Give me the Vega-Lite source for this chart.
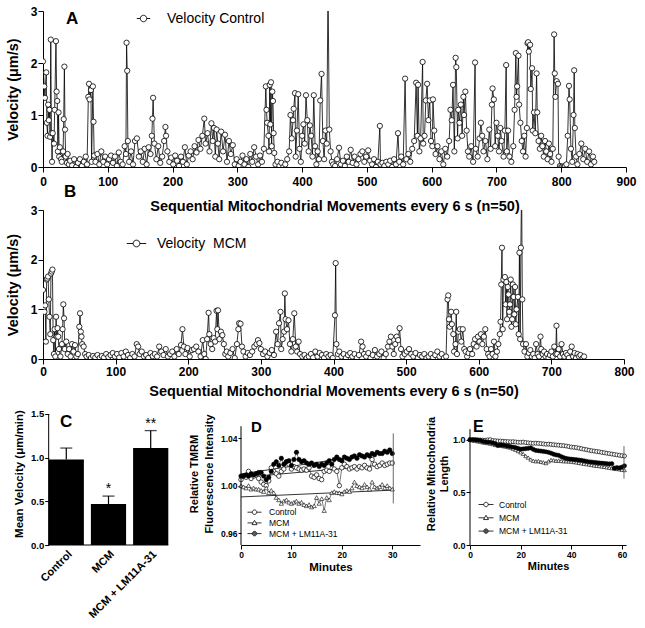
{
"$schema":"https://vega.github.io/schema/vega-lite/v6.json",
"background":"white",
"padding":{"left":5,"top":5,"right":0,"bottom":0},
"bounds":"flush",
"spacing":43,
"resolve":{"scale":{"shape":"independent"},"legend":{"shape":"independent"}},
"config":{
 "font":"Liberation Sans",
 "view":{"stroke":null},
 "axis":{"grid":false,"labelFlush":false,"domainColor":"black","tickColor":"black","labelColor":"black","titleColor":"black","labelFontWeight":"bold","titleFontWeight":"bold","labelFont":"Liberation Sans","titleFont":"Liberation Sans","domainWidth":1,"tickWidth":1},
 "legend":{"labelFont":"Liberation Sans","labelColor":"black"},
 "title":{"font":"Liberation Sans","color":"black"}
},
"datasets":{
 "ctrl":[{"x":0,"v":2.03},{"x":2,"v":1.55},{"x":3,"v":1.33},{"x":5,"v":1.82},{"x":6,"v":0.85},{"x":7,"v":0.6},{"x":8,"v":1.2},{"x":9,"v":0.9},{"x":10,"v":1.1},{"x":11,"v":0.58},{"x":12,"v":2.45},{"x":13,"v":0.65},{"x":14,"v":0.1},{"x":15,"v":0.65},{"x":17,"v":0.45},{"x":18,"v":1.1},{"x":20,"v":2.42},{"x":21,"v":1.45},{"x":22,"v":1.27},{"x":23,"v":0.3},{"x":24,"v":1.05},{"x":25,"v":0.2},{"x":26,"v":0.38},{"x":28,"v":0.15},{"x":29,"v":0.1},{"x":31,"v":0.3},{"x":32,"v":0.92},{"x":33,"v":1.93},{"x":34,"v":0.72},{"x":35,"v":0.2},{"x":37,"v":0.08},{"x":38,"v":0.25},{"x":40,"v":0.05},{"x":42,"v":0.12},{"x":45,"v":0.03},{"x":48,"v":0.15},{"x":51,"v":0.0},{"x":54,"v":0.08},{"x":57,"v":0.15},{"x":60,"v":0.02},{"x":63,"v":0.1},{"x":66,"v":0.2},{"x":68,"v":0.05},{"x":70,"v":1.35},{"x":71,"v":1.6},{"x":72,"v":1.3},{"x":74,"v":1.48},{"x":75,"v":0.1},{"x":77,"v":1.55},{"x":78,"v":0.87},{"x":79,"v":0.22},{"x":81,"v":0.1},{"x":84,"v":0.25},{"x":87,"v":0.05},{"x":90,"v":0.3},{"x":93,"v":0.1},{"x":96,"v":0.2},{"x":99,"v":0.05},{"x":102,"v":0.15},{"x":105,"v":0.22},{"x":108,"v":0.08},{"x":111,"v":0.2},{"x":114,"v":0.02},{"x":117,"v":0.28},{"x":120,"v":0.1},{"x":123,"v":0.05},{"x":126,"v":0.4},{"x":128,"v":0.25},{"x":129,"v":2.39},{"x":130,"v":1.85},{"x":131,"v":0.5},{"x":133,"v":0.1},{"x":136,"v":0.3},{"x":139,"v":0.05},{"x":142,"v":0.5},{"x":145,"v":0.55},{"x":148,"v":0.2},{"x":151,"v":0.3},{"x":154,"v":0.1},{"x":157,"v":0.35},{"x":160,"v":0.05},{"x":163,"v":0.38},{"x":166,"v":0.25},{"x":168,"v":0.6},{"x":169,"v":0.93},{"x":170,"v":1.33},{"x":172,"v":0.45},{"x":175,"v":0.15},{"x":178,"v":0.4},{"x":181,"v":0.08},{"x":184,"v":0.2},{"x":187,"v":0.5},{"x":189,"v":0.77},{"x":190,"v":0.6},{"x":192,"v":0.3},{"x":195,"v":0.1},{"x":198,"v":0.18},{"x":201,"v":0.05},{"x":204,"v":0.22},{"x":207,"v":0.12},{"x":210,"v":0.02},{"x":213,"v":0.2},{"x":216,"v":0.1},{"x":219,"v":0.38},{"x":222,"v":0.05},{"x":225,"v":0.22},{"x":228,"v":0.3},{"x":231,"v":0.15},{"x":234,"v":0.4},{"x":237,"v":0.28},{"x":240,"v":0.52},{"x":243,"v":0.35},{"x":246,"v":0.6},{"x":249,"v":0.93},{"x":251,"v":0.45},{"x":254,"v":0.65},{"x":257,"v":0.3},{"x":260,"v":0.84},{"x":262,"v":0.5},{"x":264,"v":0.75},{"x":266,"v":0.2},{"x":268,"v":0.72},{"x":270,"v":0.45},{"x":272,"v":0.15},{"x":275,"v":0.68},{"x":278,"v":0.3},{"x":281,"v":0.62},{"x":284,"v":0.1},{"x":287,"v":0.5},{"x":290,"v":0.25},{"x":293,"v":0.42},{"x":296,"v":0.05},{"x":299,"v":0.15},{"x":302,"v":0.02},{"x":305,"v":0.1},{"x":308,"v":0.22},{"x":311,"v":0.05},{"x":314,"v":0.15},{"x":317,"v":0.0},{"x":320,"v":0.25},{"x":323,"v":0.1},{"x":326,"v":0.38},{"x":329,"v":0.2},{"x":332,"v":0.05},{"x":335,"v":0.22},{"x":338,"v":0.1},{"x":341,"v":0.35},{"x":344,"v":1.55},{"x":345,"v":1.1},{"x":346,"v":0.85},{"x":348,"v":0.6},{"x":349,"v":0.3},{"x":350,"v":1.58},{"x":351,"v":0.82},{"x":352,"v":1.63},{"x":353,"v":0.4},{"x":354,"v":1.45},{"x":355,"v":1.27},{"x":356,"v":0.65},{"x":357,"v":0.27},{"x":359,"v":0.05},{"x":362,"v":0.1},{"x":365,"v":0.02},{"x":368,"v":0.08},{"x":371,"v":0.0},{"x":374,"v":0.05},{"x":377,"v":0.15},{"x":380,"v":0.3},{"x":382,"v":1.0},{"x":384,"v":0.55},{"x":386,"v":0.9},{"x":387,"v":1.12},{"x":389,"v":1.42},{"x":390,"v":0.2},{"x":392,"v":0.7},{"x":394,"v":1.4},{"x":396,"v":0.35},{"x":398,"v":0.1},{"x":400,"v":0.6},{"x":402,"v":0.82},{"x":404,"v":0.45},{"x":406,"v":1.38},{"x":408,"v":0.9},{"x":410,"v":0.3},{"x":412,"v":0.8},{"x":414,"v":0.6},{"x":416,"v":0.2},{"x":418,"v":1.38},{"x":420,"v":0.4},{"x":422,"v":0.05},{"x":424,"v":0.3},{"x":426,"v":0.15},{"x":428,"v":1.28},{"x":430,"v":1.79},{"x":432,"v":0.5},{"x":434,"v":0.15},{"x":436,"v":0.7},{"x":438,"v":0.45},{"x":440,"v":3.5},{"x":442,"v":0.72},{"x":444,"v":0.3},{"x":446,"v":0.1},{"x":448,"v":0.05},{"x":451,"v":0.02},{"x":454,"v":0.15},{"x":457,"v":0.37},{"x":460,"v":0.05},{"x":463,"v":0.12},{"x":466,"v":0.02},{"x":469,"v":0.2},{"x":472,"v":0.1},{"x":475,"v":0.33},{"x":478,"v":0.08},{"x":481,"v":0.2},{"x":484,"v":0.05},{"x":487,"v":0.15},{"x":490,"v":0.25},{"x":493,"v":0.3},{"x":496,"v":0.1},{"x":499,"v":0.2},{"x":502,"v":0.32},{"x":505,"v":0.12},{"x":508,"v":0.05},{"x":511,"v":0.15},{"x":514,"v":0.0},{"x":517,"v":0.1},{"x":520,"v":0.79},{"x":521,"v":0.05},{"x":524,"v":0.08},{"x":527,"v":0.02},{"x":530,"v":0.1},{"x":533,"v":0.05},{"x":536,"v":0.12},{"x":539,"v":0.0},{"x":542,"v":0.15},{"x":545,"v":0.05},{"x":548,"v":0.65},{"x":550,"v":0.1},{"x":553,"v":0.2},{"x":556,"v":0.05},{"x":559,"v":1.7},{"x":561,"v":0.15},{"x":564,"v":0.25},{"x":567,"v":0.1},{"x":570,"v":0.35},{"x":573,"v":0.5},{"x":576,"v":1.62},{"x":578,"v":0.6},{"x":579,"v":1.58},{"x":581,"v":0.3},{"x":583,"v":0.55},{"x":586,"v":2.02},{"x":587,"v":0.45},{"x":589,"v":0.6},{"x":591,"v":1.28},{"x":593,"v":1.6},{"x":595,"v":0.9},{"x":597,"v":1.28},{"x":599,"v":0.5},{"x":601,"v":0.4},{"x":602,"v":1.3},{"x":604,"v":0.7},{"x":606,"v":0.25},{"x":609,"v":0.4},{"x":612,"v":0.15},{"x":615,"v":0.3},{"x":618,"v":0.05},{"x":621,"v":0.35},{"x":624,"v":0.2},{"x":627,"v":0.5},{"x":629,"v":1.1},{"x":631,"v":0.9},{"x":633,"v":1.58},{"x":635,"v":0.3},{"x":637,"v":2.1},{"x":638,"v":1.92},{"x":640,"v":0.55},{"x":641,"v":1.1},{"x":643,"v":0.85},{"x":645,"v":1.2},{"x":647,"v":0.6},{"x":649,"v":1.35},{"x":650,"v":1.0},{"x":652,"v":1.45},{"x":654,"v":0.7},{"x":656,"v":0.3},{"x":658,"v":0.2},{"x":661,"v":0.4},{"x":664,"v":0.1},{"x":667,"v":2.01},{"x":668,"v":0.35},{"x":671,"v":0.2},{"x":674,"v":0.55},{"x":676,"v":0.85},{"x":678,"v":0.6},{"x":680,"v":0.3},{"x":683,"v":0.5},{"x":686,"v":0.15},{"x":689,"v":0.72},{"x":691,"v":0.35},{"x":693,"v":1.2},{"x":694,"v":1.51},{"x":696,"v":1.3},{"x":698,"v":0.4},{"x":700,"v":0.85},{"x":702,"v":0.6},{"x":704,"v":0.3},{"x":706,"v":0.75},{"x":708,"v":0.5},{"x":711,"v":0.2},{"x":713,"v":0.7},{"x":715,"v":1.96},{"x":716,"v":0.3},{"x":718,"v":0.7},{"x":720,"v":0.2},{"x":723,"v":0.1},{"x":726,"v":0.4},{"x":728,"v":1.1},{"x":730,"v":2.19},{"x":731,"v":1.35},{"x":732,"v":1.55},{"x":734,"v":2.14},{"x":735,"v":1.2},{"x":737,"v":0.85},{"x":739,"v":0.5},{"x":741,"v":0.3},{"x":743,"v":0.6},{"x":745,"v":0.2},{"x":747,"v":0.75},{"x":748,"v":2.38},{"x":749,"v":2.4},{"x":750,"v":2.22},{"x":752,"v":2.35},{"x":753,"v":1.5},{"x":755,"v":1.9},{"x":756,"v":0.7},{"x":758,"v":1.05},{"x":760,"v":0.65},{"x":762,"v":1.8},{"x":763,"v":1.05},{"x":765,"v":0.5},{"x":767,"v":0.35},{"x":769,"v":0.6},{"x":771,"v":0.4},{"x":773,"v":0.2},{"x":775,"v":0.5},{"x":777,"v":0.3},{"x":779,"v":0.15},{"x":781,"v":0.45},{"x":783,"v":0.25},{"x":785,"v":0.1},{"x":787,"v":0.35},{"x":789,"v":2.55},{"x":790,"v":1.8},{"x":791,"v":1.35},{"x":793,"v":1.65},{"x":795,"v":1.6},{"x":796,"v":0.2},{"x":798,"v":0.02},{"x":800,"v":0.0},{"x":802,"v":0.01},{"x":804,"v":0.0},{"x":806,"v":0.02},{"x":808,"v":0.05},{"x":810,"v":0.6},{"x":812,"v":1.56},{"x":813,"v":1.3},{"x":815,"v":0.35},{"x":817,"v":0.1},{"x":819,"v":1.0},{"x":820,"v":1.86},{"x":821,"v":0.75},{"x":823,"v":0.2},{"x":825,"v":0.05},{"x":828,"v":0.25},{"x":831,"v":0.45},{"x":834,"v":0.15},{"x":837,"v":0.35},{"x":840,"v":0.1},{"x":843,"v":0.3},{"x":846,"v":0.05},{"x":849,"v":0.2},{"x":851,"v":0.1}],
 "mcm":[{"x":0,"v":1.39},{"x":1,"v":1.0},{"x":2,"v":0.95},{"x":3,"v":1.08},{"x":4,"v":0.35},{"x":5,"v":1.6},{"x":6,"v":1.62},{"x":7,"v":1.66},{"x":8,"v":1.2},{"x":9,"v":0.85},{"x":10,"v":0.5},{"x":11,"v":1.72},{"x":12,"v":1.76},{"x":13,"v":1.8},{"x":14,"v":0.38},{"x":15,"v":0.1},{"x":16,"v":0.6},{"x":17,"v":0.05},{"x":18,"v":0.85},{"x":19,"v":0.45},{"x":20,"v":0.62},{"x":21,"v":0.45},{"x":22,"v":0.2},{"x":24,"v":0.05},{"x":26,"v":0.3},{"x":27,"v":0.6},{"x":28,"v":1.1},{"x":29,"v":0.82},{"x":30,"v":0.2},{"x":32,"v":0.35},{"x":34,"v":0.1},{"x":36,"v":0.2},{"x":38,"v":0.05},{"x":40,"v":0.3},{"x":42,"v":0.15},{"x":44,"v":0.28},{"x":46,"v":0.05},{"x":48,"v":0.1},{"x":50,"v":0.65},{"x":51,"v":0.92},{"x":52,"v":0.55},{"x":53,"v":0.45},{"x":54,"v":0.3},{"x":56,"v":0.25},{"x":58,"v":0.1},{"x":60,"v":0.05},{"x":63,"v":0.08},{"x":66,"v":0.02},{"x":69,"v":0.06},{"x":72,"v":0.03},{"x":75,"v":0.08},{"x":78,"v":0.02},{"x":81,"v":0.06},{"x":84,"v":0.03},{"x":87,"v":0.1},{"x":90,"v":0.04},{"x":93,"v":0.08},{"x":96,"v":0.12},{"x":99,"v":0.05},{"x":102,"v":0.1},{"x":105,"v":0.03},{"x":108,"v":0.12},{"x":111,"v":0.05},{"x":114,"v":0.15},{"x":117,"v":0.08},{"x":120,"v":0.02},{"x":123,"v":0.1},{"x":126,"v":0.05},{"x":129,"v":0.3},{"x":131,"v":0.25},{"x":133,"v":0.1},{"x":136,"v":0.15},{"x":139,"v":0.05},{"x":142,"v":0.08},{"x":145,"v":0.02},{"x":148,"v":0.12},{"x":151,"v":0.06},{"x":154,"v":0.1},{"x":157,"v":0.05},{"x":160,"v":0.25},{"x":163,"v":0.15},{"x":166,"v":0.08},{"x":169,"v":0.2},{"x":172,"v":0.05},{"x":175,"v":0.1},{"x":178,"v":0.15},{"x":181,"v":0.05},{"x":184,"v":0.2},{"x":187,"v":0.1},{"x":190,"v":0.28},{"x":192,"v":0.6},{"x":194,"v":0.25},{"x":196,"v":0.1},{"x":199,"v":0.22},{"x":202,"v":0.05},{"x":205,"v":0.18},{"x":208,"v":0.2},{"x":211,"v":0.25},{"x":214,"v":0.15},{"x":217,"v":0.05},{"x":220,"v":0.38},{"x":222,"v":0.1},{"x":224,"v":0.0},{"x":226,"v":0.4},{"x":228,"v":0.93},{"x":229,"v":0.5},{"x":231,"v":0.3},{"x":233,"v":0.2},{"x":235,"v":0.42},{"x":237,"v":0.35},{"x":239,"v":0.97},{"x":240,"v":0.6},{"x":241,"v":0.98},{"x":243,"v":0.4},{"x":245,"v":0.55},{"x":247,"v":0.48},{"x":249,"v":0.3},{"x":251,"v":0.1},{"x":253,"v":0.15},{"x":255,"v":0.05},{"x":258,"v":0.12},{"x":261,"v":0.2},{"x":264,"v":0.02},{"x":267,"v":0.3},{"x":269,"v":0.6},{"x":270,"v":0.72},{"x":272,"v":0.71},{"x":274,"v":0.25},{"x":276,"v":0.15},{"x":279,"v":0.05},{"x":282,"v":0.12},{"x":285,"v":0.08},{"x":288,"v":0.15},{"x":291,"v":0.25},{"x":294,"v":0.3},{"x":296,"v":0.38},{"x":298,"v":0.32},{"x":300,"v":0.2},{"x":303,"v":0.1},{"x":306,"v":0.15},{"x":309,"v":0.05},{"x":312,"v":0.12},{"x":315,"v":0.18},{"x":318,"v":0.08},{"x":321,"v":0.55},{"x":323,"v":0.3},{"x":325,"v":0.72},{"x":327,"v":0.95},{"x":328,"v":0.2},{"x":330,"v":0.4},{"x":332,"v":0.55},{"x":333,"v":1.32},{"x":334,"v":0.8},{"x":336,"v":0.6},{"x":338,"v":0.78},{"x":340,"v":0.3},{"x":342,"v":0.15},{"x":344,"v":0.4},{"x":346,"v":0.92},{"x":348,"v":0.25},{"x":350,"v":0.15},{"x":352,"v":0.35},{"x":354,"v":0.1},{"x":357,"v":0.05},{"x":360,"v":0.08},{"x":363,"v":0.02},{"x":366,"v":0.05},{"x":369,"v":0.1},{"x":372,"v":0.03},{"x":375,"v":0.15},{"x":378,"v":0.05},{"x":381,"v":0.12},{"x":384,"v":0.08},{"x":387,"v":0.02},{"x":390,"v":0.1},{"x":393,"v":0.05},{"x":396,"v":0.08},{"x":399,"v":0.02},{"x":402,"v":0.88},{"x":403,"v":1.93},{"x":404,"v":0.3},{"x":406,"v":0.1},{"x":408,"v":0.15},{"x":411,"v":0.05},{"x":414,"v":0.1},{"x":417,"v":0.02},{"x":420,"v":0.08},{"x":423,"v":0.12},{"x":426,"v":0.05},{"x":429,"v":0.1},{"x":432,"v":0.02},{"x":435,"v":0.08},{"x":438,"v":0.35},{"x":440,"v":0.25},{"x":442,"v":0.1},{"x":445,"v":0.05},{"x":448,"v":0.12},{"x":451,"v":0.02},{"x":454,"v":0.08},{"x":457,"v":0.18},{"x":460,"v":0.05},{"x":463,"v":0.1},{"x":466,"v":0.15},{"x":469,"v":0.02},{"x":472,"v":0.1},{"x":475,"v":0.25},{"x":477,"v":0.35},{"x":479,"v":0.45},{"x":481,"v":0.25},{"x":483,"v":0.1},{"x":485,"v":0.3},{"x":487,"v":0.45},{"x":489,"v":0.38},{"x":491,"v":0.62},{"x":493,"v":0.2},{"x":495,"v":0.05},{"x":498,"v":0.1},{"x":501,"v":0.15},{"x":504,"v":0.2},{"x":507,"v":0.1},{"x":510,"v":0.05},{"x":513,"v":0.12},{"x":516,"v":0.02},{"x":519,"v":0.08},{"x":522,"v":0.05},{"x":525,"v":0.1},{"x":528,"v":0.02},{"x":531,"v":0.05},{"x":534,"v":0.1},{"x":537,"v":0.03},{"x":540,"v":0.08},{"x":543,"v":0.15},{"x":546,"v":0.05},{"x":549,"v":0.1},{"x":552,"v":0.02},{"x":555,"v":0.05},{"x":557,"v":1.2},{"x":558,"v":1.28},{"x":559,"v":0.8},{"x":560,"v":0.65},{"x":562,"v":0.95},{"x":563,"v":0.7},{"x":565,"v":0.5},{"x":566,"v":0.15},{"x":568,"v":0.3},{"x":569,"v":0.95},{"x":570,"v":0.1},{"x":572,"v":0.55},{"x":574,"v":0.6},{"x":576,"v":0.35},{"x":578,"v":0.6},{"x":580,"v":0.2},{"x":582,"v":0.15},{"x":584,"v":0.05},{"x":586,"v":0.12},{"x":588,"v":0.2},{"x":591,"v":0.1},{"x":593,"v":0.3},{"x":595,"v":0.4},{"x":597,"v":0.25},{"x":599,"v":0.45},{"x":601,"v":0.35},{"x":603,"v":0.5},{"x":605,"v":0.3},{"x":607,"v":0.45},{"x":609,"v":0.6},{"x":611,"v":0.2},{"x":613,"v":0.1},{"x":615,"v":0.05},{"x":617,"v":0.2},{"x":619,"v":0.1},{"x":621,"v":0.35},{"x":623,"v":0.05},{"x":625,"v":0.15},{"x":627,"v":0.3},{"x":629,"v":0.5},{"x":630,"v":0.75},{"x":631,"v":1.5},{"x":632,"v":2.24},{"x":633,"v":0.6},{"x":634,"v":1.6},{"x":636,"v":1.65},{"x":637,"v":1.1},{"x":638,"v":1.55},{"x":639,"v":0.8},{"x":640,"v":1.45},{"x":641,"v":1.3},{"x":642,"v":0.95},{"x":643,"v":1.1},{"x":644,"v":1.6},{"x":645,"v":0.65},{"x":646,"v":0.8},{"x":647,"v":1.5},{"x":648,"v":1.25},{"x":649,"v":0.9},{"x":650,"v":1.45},{"x":651,"v":0.7},{"x":652,"v":1.0},{"x":654,"v":1.25},{"x":655,"v":0.5},{"x":656,"v":2.14},{"x":657,"v":0.4},{"x":658,"v":2.24},{"x":659,"v":3.5},{"x":660,"v":1.2},{"x":661,"v":0.3},{"x":663,"v":0.15},{"x":665,"v":0.3},{"x":667,"v":0.05},{"x":669,"v":0.12},{"x":671,"v":0.18},{"x":673,"v":0.05},{"x":675,"v":0.1},{"x":677,"v":0.02},{"x":679,"v":0.3},{"x":681,"v":0.1},{"x":683,"v":0.05},{"x":685,"v":0.45},{"x":686,"v":0.2},{"x":688,"v":0.1},{"x":690,"v":0.15},{"x":692,"v":0.05},{"x":694,"v":0.1},{"x":696,"v":0.02},{"x":698,"v":0.08},{"x":700,"v":0.15},{"x":702,"v":0.05},{"x":704,"v":0.25},{"x":706,"v":0.1},{"x":707,"v":0.67},{"x":708,"v":0.1},{"x":710,"v":0.2},{"x":712,"v":0.05},{"x":714,"v":0.3},{"x":716,"v":0.1},{"x":718,"v":0.05},{"x":720,"v":0.12},{"x":722,"v":0.08},{"x":724,"v":0.02},{"x":726,"v":0.15},{"x":728,"v":0.25},{"x":730,"v":0.05},{"x":732,"v":0.12},{"x":734,"v":0.02},{"x":736,"v":0.1},{"x":738,"v":0.05},{"x":740,"v":0.08},{"x":743,"v":0.02},{"x":745,"v":0.05}],
 "bars":[{"g":"Control","m":0.98,"hi":1.11,"sig":""},{"g":"MCM","m":0.47,"hi":0.56,"sig":"*"},{"g":"MCM + LM11A-31","m":1.11,"hi":1.31,"sig":"**"}],
 "tmrm":[{"t":0,"Control":1.005,"MCM":1.0,"MCM + LM11A-31":1.008},{"t":0.5,"Control":1.008,"MCM":0.999,"MCM + LM11A-31":1.008},{"t":1,"Control":1.007,"MCM":0.998,"MCM + LM11A-31":1.009},{"t":1.5,"Control":1.012,"MCM":1.0,"MCM + LM11A-31":1.008},{"t":2,"Control":1.006,"MCM":0.997,"MCM + LM11A-31":1.01},{"t":2.5,"Control":1.008,"MCM":0.998,"MCM + LM11A-31":1.009},{"t":3,"Control":1.009,"MCM":0.997,"MCM + LM11A-31":1.01},{"t":3.5,"Control":1.006,"MCM":0.997,"MCM + LM11A-31":1.011},{"t":4,"Control":1.003,"MCM":0.996,"MCM + LM11A-31":1.011},{"t":4.5,"Control":1.001,"MCM":0.995,"MCM + LM11A-31":1.008},{"t":5,"Control":1.0,"MCM":0.998,"MCM + LM11A-31":1.005},{"t":5.5,"Control":1.004,"MCM":0.994,"MCM + LM11A-31":1.007},{"t":6,"Control":1.015,"MCM":0.996,"MCM + LM11A-31":1.012},{"t":6.5,"Control":1.012,"MCM":0.994,"MCM + LM11A-31":1.018},{"t":7,"Control":1.01,"MCM":0.99,"MCM + LM11A-31":1.02},{"t":7.5,"Control":1.008,"MCM":0.988,"MCM + LM11A-31":1.017},{"t":8,"Control":1.012,"MCM":0.985,"MCM + LM11A-31":1.023},{"t":8.5,"Control":1.014,"MCM":0.987,"MCM + LM11A-31":1.018},{"t":9,"Control":1.02,"MCM":0.988,"MCM + LM11A-31":1.02},{"t":9.5,"Control":1.018,"MCM":0.986,"MCM + LM11A-31":1.021},{"t":10,"Control":1.014,"MCM":0.985,"MCM + LM11A-31":1.017},{"t":10.5,"Control":1.016,"MCM":0.986,"MCM + LM11A-31":1.022},{"t":11,"Control":1.015,"MCM":0.987,"MCM + LM11A-31":1.028},{"t":11.5,"Control":1.014,"MCM":0.985,"MCM + LM11A-31":1.022},{"t":12,"Control":1.013,"MCM":0.986,"MCM + LM11A-31":1.02},{"t":12.5,"Control":1.014,"MCM":0.984,"MCM + LM11A-31":1.021},{"t":13,"Control":1.013,"MCM":0.983,"MCM + LM11A-31":1.019},{"t":13.5,"Control":1.015,"MCM":0.984,"MCM + LM11A-31":1.018},{"t":14,"Control":1.008,"MCM":0.982,"MCM + LM11A-31":1.019},{"t":14.5,"Control":1.007,"MCM":0.983,"MCM + LM11A-31":1.017},{"t":15,"Control":1.009,"MCM":0.99,"MCM + LM11A-31":1.018},{"t":15.5,"Control":1.006,"MCM":0.985,"MCM + LM11A-31":1.016},{"t":16,"Control":1.005,"MCM":0.989,"MCM + LM11A-31":1.018},{"t":16.5,"Control":1.012,"MCM":0.979,"MCM + LM11A-31":1.017},{"t":17,"Control":1.013,"MCM":0.99,"MCM + LM11A-31":1.019},{"t":17.5,"Control":1.012,"MCM":0.988,"MCM + LM11A-31":1.021},{"t":18,"Control":1.02,"MCM":0.994,"MCM + LM11A-31":1.018},{"t":18.5,"Control":1.014,"MCM":0.995,"MCM + LM11A-31":1.022},{"t":19,"Control":1.012,"MCM":0.994,"MCM + LM11A-31":1.024},{"t":19.5,"Control":1.0,"MCM":0.994,"MCM + LM11A-31":1.022},{"t":20,"Control":1.015,"MCM":0.993,"MCM + LM11A-31":1.021},{"t":20.5,"Control":1.018,"MCM":0.995,"MCM + LM11A-31":1.024},{"t":21,"Control":1.016,"MCM":0.996,"MCM + LM11A-31":1.023},{"t":21.5,"Control":1.014,"MCM":0.995,"MCM + LM11A-31":1.022},{"t":22,"Control":1.015,"MCM":0.998,"MCM + LM11A-31":1.024},{"t":22.5,"Control":1.016,"MCM":1.003,"MCM + LM11A-31":1.025},{"t":23,"Control":1.014,"MCM":1.0,"MCM + LM11A-31":1.023},{"t":23.5,"Control":1.016,"MCM":0.999,"MCM + LM11A-31":1.026},{"t":24,"Control":1.015,"MCM":0.998,"MCM + LM11A-31":1.025},{"t":24.5,"Control":1.017,"MCM":1.001,"MCM + LM11A-31":1.024},{"t":25,"Control":1.015,"MCM":0.999,"MCM + LM11A-31":1.026},{"t":25.5,"Control":1.014,"MCM":0.997,"MCM + LM11A-31":1.025},{"t":26,"Control":1.022,"MCM":1.003,"MCM + LM11A-31":1.027},{"t":26.5,"Control":1.018,"MCM":0.999,"MCM + LM11A-31":1.026},{"t":27,"Control":1.016,"MCM":0.998,"MCM + LM11A-31":1.028},{"t":27.5,"Control":1.017,"MCM":0.999,"MCM + LM11A-31":1.027},{"t":28,"Control":1.019,"MCM":1.001,"MCM + LM11A-31":1.027},{"t":28.5,"Control":1.017,"MCM":0.998,"MCM + LM11A-31":1.029},{"t":29,"Control":1.018,"MCM":1.0,"MCM + LM11A-31":1.028},{"t":29.5,"Control":1.019,"MCM":0.998,"MCM + LM11A-31":1.03},{"t":30,"Control":1.019,"MCM":0.997,"MCM + LM11A-31":1.027}],
 "len":[{"t":0,"Control":1.0,"MCM":1.0,"MCM + LM11A-31":1.0},{"t":1,"Control":0.998,"MCM":0.995,"MCM + LM11A-31":1.0},{"t":2,"Control":1.001,"MCM":0.99,"MCM + LM11A-31":0.998},{"t":3,"Control":0.999,"MCM":0.985,"MCM + LM11A-31":0.995},{"t":4,"Control":0.997,"MCM":0.982,"MCM + LM11A-31":0.993},{"t":5,"Control":0.996,"MCM":0.975,"MCM + LM11A-31":0.985},{"t":6,"Control":0.995,"MCM":0.972,"MCM + LM11A-31":0.98},{"t":7,"Control":0.998,"MCM":0.968,"MCM + LM11A-31":0.978},{"t":8,"Control":1.0,"MCM":0.963,"MCM + LM11A-31":0.975},{"t":9,"Control":0.992,"MCM":0.958,"MCM + LM11A-31":0.97},{"t":10,"Control":0.99,"MCM":0.95,"MCM + LM11A-31":0.962},{"t":11,"Control":0.988,"MCM":0.948,"MCM + LM11A-31":0.945},{"t":12,"Control":0.987,"MCM":0.944,"MCM + LM11A-31":0.95},{"t":13,"Control":0.985,"MCM":0.94,"MCM + LM11A-31":0.948},{"t":14,"Control":0.983,"MCM":0.935,"MCM + LM11A-31":0.944},{"t":15,"Control":0.982,"MCM":0.93,"MCM + LM11A-31":0.94},{"t":16,"Control":0.98,"MCM":0.925,"MCM + LM11A-31":0.935},{"t":17,"Control":0.981,"MCM":0.915,"MCM + LM11A-31":0.93},{"t":18,"Control":0.978,"MCM":0.905,"MCM + LM11A-31":0.925},{"t":19,"Control":0.976,"MCM":0.892,"MCM + LM11A-31":0.918},{"t":20,"Control":0.975,"MCM":0.88,"MCM + LM11A-31":0.91},{"t":21,"Control":0.977,"MCM":0.865,"MCM + LM11A-31":0.912},{"t":22,"Control":0.973,"MCM":0.845,"MCM + LM11A-31":0.915},{"t":23,"Control":0.97,"MCM":0.83,"MCM + LM11A-31":0.918},{"t":24,"Control":0.968,"MCM":0.812,"MCM + LM11A-31":0.922},{"t":25,"Control":0.966,"MCM":0.8,"MCM + LM11A-31":0.908},{"t":26,"Control":0.967,"MCM":0.795,"MCM + LM11A-31":0.898},{"t":27,"Control":0.965,"MCM":0.798,"MCM + LM11A-31":0.895},{"t":28,"Control":0.963,"MCM":0.79,"MCM + LM11A-31":0.892},{"t":29,"Control":0.96,"MCM":0.785,"MCM + LM11A-31":0.888},{"t":30,"Control":0.957,"MCM":0.778,"MCM + LM11A-31":0.885},{"t":31,"Control":0.958,"MCM":0.795,"MCM + LM11A-31":0.88},{"t":32,"Control":0.955,"MCM":0.808,"MCM + LM11A-31":0.872},{"t":33,"Control":0.952,"MCM":0.805,"MCM + LM11A-31":0.862},{"t":34,"Control":0.95,"MCM":0.8,"MCM + LM11A-31":0.855},{"t":35,"Control":0.948,"MCM":0.802,"MCM + LM11A-31":0.852},{"t":36,"Control":0.945,"MCM":0.798,"MCM + LM11A-31":0.84},{"t":37,"Control":0.943,"MCM":0.796,"MCM + LM11A-31":0.83},{"t":38,"Control":0.94,"MCM":0.795,"MCM + LM11A-31":0.822},{"t":39,"Control":0.935,"MCM":0.794,"MCM + LM11A-31":0.818},{"t":40,"Control":0.93,"MCM":0.792,"MCM + LM11A-31":0.815},{"t":41,"Control":0.928,"MCM":0.788,"MCM + LM11A-31":0.812},{"t":42,"Control":0.925,"MCM":0.785,"MCM + LM11A-31":0.81},{"t":43,"Control":0.92,"MCM":0.78,"MCM + LM11A-31":0.807},{"t":44,"Control":0.915,"MCM":0.776,"MCM + LM11A-31":0.804},{"t":45,"Control":0.91,"MCM":0.772,"MCM + LM11A-31":0.8},{"t":46,"Control":0.905,"MCM":0.768,"MCM + LM11A-31":0.795},{"t":47,"Control":0.9,"MCM":0.765,"MCM + LM11A-31":0.79},{"t":48,"Control":0.895,"MCM":0.76,"MCM + LM11A-31":0.788},{"t":49,"Control":0.892,"MCM":0.756,"MCM + LM11A-31":0.785},{"t":50,"Control":0.888,"MCM":0.752,"MCM + LM11A-31":0.782},{"t":51,"Control":0.885,"MCM":0.75,"MCM + LM11A-31":0.779},{"t":52,"Control":0.88,"MCM":0.746,"MCM + LM11A-31":0.777},{"t":53,"Control":0.876,"MCM":0.742,"MCM + LM11A-31":0.775},{"t":54,"Control":0.872,"MCM":0.738,"MCM + LM11A-31":0.772},{"t":55,"Control":0.868,"MCM":0.734,"MCM + LM11A-31":0.77},{"t":56,"Control":0.864,"MCM":0.73,"MCM + LM11A-31":0.772},{"t":57,"Control":0.86,"MCM":0.727,"MCM + LM11A-31":0.73},{"t":58,"Control":0.856,"MCM":0.723,"MCM + LM11A-31":0.735},{"t":59,"Control":0.852,"MCM":0.719,"MCM + LM11A-31":0.732},{"t":60,"Control":0.848,"MCM":0.715,"MCM + LM11A-31":0.74},{"t":61,"Control":0.845,"MCM":0.712,"MCM + LM11A-31":0.752}]
},
"vconcat":[
 {
  "width":583,"height":156,
  "layer":[
   {"data":{"name":"ctrl"},"mark":{"type":"line","color":"black","strokeWidth":0.8,"clip":true},
    "encoding":{
     "x":{"field":"x","type":"quantitative","scale":{"domain":[0,900],"nice":false},"axis":{"values":[0,100,200,300,400,500,600,700,800,900],"title":"Sequential Mitochondrial Movements every 6 s (n=50)","labelFontSize":12,"titleFontSize":14.5,"tickSize":5,"labelPadding":4,"titlePadding":12}},
     "y":{"field":"v","type":"quantitative","scale":{"domain":[0,3],"nice":false},"axis":{"values":[0,1,2,3],"title":"Velocity (μm/s)","labelFontSize":12,"titleFontSize":14.5,"tickSize":5,"labelPadding":1,"titlePadding":9.5}}}},
   {"data":{"name":"ctrl"},"mark":{"type":"point","shape":"circle","filled":true,"fill":"white","stroke":"black","strokeWidth":0.8,"size":28,"opacity":1,"clip":true},
    "encoding":{"x":{"field":"x","type":"quantitative"},"y":{"field":"v","type":"quantitative"}}},
   {"data":{"values":[{}]},"mark":{"type":"text","text":"A","align":"left","baseline":"alphabetic","fontSize":17,"fontWeight":"bold","color":"black"},
    "encoding":{"x":{"datum":35.5},"y":{"datum":2.75}}},
   {"data":{"values":[{"s":"Velocity Control"}]},"transform":[{"filter":"false"}],"mark":{"type":"point","filled":false,"color":"black","strokeWidth":0.9,"opacity":1},
    "encoding":{"shape":{"field":"s","type":"nominal","scale":{"domain":["Velocity Control"],"range":["M-1,0L-0.48,0M0.48,0L1,0M0.48,0A0.48,0.48,0,1,1,-0.48,0A0.48,0.48,0,1,1,0.48,0Z"]},
     "legend":{"orient":"none","legendX":93,"legendY":0,"title":null,"padding":0,"labelFontSize":14,"labelFontWeight":"normal","labelOffset":16,"symbolSize":180,"symbolStrokeColor":"black","symbolStrokeWidth":0.9,"symbolOpacity":1}}}}
  ]
 },
 {
  "width":581,"height":149,
  "title":{"text":"B","anchor":"start","frame":"group","offset":0,"baseline":"alphabetic","dx":21,"dy":10,"fontSize":17,"fontWeight":"bold"},
  "layer":[
   {"data":{"name":"mcm"},"mark":{"type":"line","color":"black","strokeWidth":0.8,"clip":true},
    "encoding":{
     "x":{"field":"x","type":"quantitative","scale":{"domain":[0,800],"nice":false},"axis":{"values":[0,100,200,300,400,500,600,700,800],"title":"Sequential Mitochondrial Movements every 6 s (n=50)","labelFontSize":12,"titleFontSize":14.5,"tickSize":5,"labelPadding":2,"titlePadding":7}},
     "y":{"field":"v","type":"quantitative","scale":{"domain":[0,3],"nice":false},"axis":{"values":[0,1,2,3],"title":"Velocity (μm/s)","labelFontSize":12,"titleFontSize":14.5,"tickSize":5,"labelPadding":1,"titlePadding":9.5}}}},
   {"data":{"name":"mcm"},"mark":{"type":"point","shape":"circle","filled":true,"fill":"white","stroke":"black","strokeWidth":0.8,"size":28,"opacity":1,"clip":true},
    "encoding":{"x":{"field":"x","type":"quantitative"},"y":{"field":"v","type":"quantitative"}}},
   {"data":{"values":[{"s":"Velocity\u00a0 MCM"}]},"transform":[{"filter":"false"}],"mark":{"type":"point","filled":false,"color":"black","strokeWidth":0.9,"opacity":1},
    "encoding":{"shape":{"field":"s","type":"nominal","scale":{"domain":["Velocity\u00a0 MCM"],"range":["M-1.45,0L-0.5,0M0.5,0L1.45,0M0.5,0A0.5,0.5,0,1,1,-0.5,0A0.5,0.5,0,1,1,0.5,0Z"]},
     "legend":{"orient":"none","legendX":86,"legendY":26,"title":null,"padding":0,"labelFontSize":14,"labelFontWeight":"normal","labelOffset":13,"symbolSize":180,"symbolStrokeColor":"black","symbolStrokeWidth":0.9,"symbolOpacity":1}}}}
  ]
 },
 {
  "resolve":{"scale":{"shape":"independent"},"legend":{"shape":"independent"}},
  "hconcat":[
   {
    "width":148,"height":143,
    "title":{"text":"C","anchor":"start","frame":"group","offset":0,"baseline":"alphabetic","dx":17,"dy":42,"fontSize":17,"fontWeight":"bold"},
    "data":{"name":"bars"},
    "layer":[
     {"mark":{"type":"bar","color":"black"},
      "encoding":{
       "x":{"field":"g","type":"nominal","sort":null,"scale":{"paddingInner":0.166,"paddingOuter":0.336,"align":0.2},"axis":{"title":null,"labelAngle":-45,"labelFontSize":11,"domain":false,"ticks":false,"labelPadding":3}},
       "y":{"field":"m","type":"quantitative","scale":{"domain":[0,1.6374],"nice":false},"axis":{"values":[0,0.5,1,1.5],"format":".1f","title":"Mean Velocity (μm/min)","titleFontSize":11.5,"labelFontSize":9.5,"tickSize":4,"labelPadding":1,"offset":-5.7,"domain":false,"titlePadding":6}}}},
     {"mark":{"type":"rule","color":"black","strokeWidth":1.2},
      "encoding":{"x":{"field":"g","type":"nominal","sort":null},"y":{"field":"m","type":"quantitative"},"y2":{"field":"hi"}}},
     {"mark":{"type":"tick","color":"black","thickness":1.3,"size":12,"orient":"horizontal"},
      "encoding":{"x":{"field":"g","type":"nominal","sort":null},"y":{"field":"hi","type":"quantitative"}}},
     {"mark":{"type":"text","fontSize":14,"baseline":"bottom","dy":0,"color":"black"},
      "encoding":{"x":{"field":"g","type":"nominal","sort":null},"y":{"field":"hi","type":"quantitative"},"text":{"field":"sig"}}},
     {"data":{"values":[{}]},"mark":{"type":"rule","color":"black","strokeWidth":1},
      "encoding":{"x":{"datum":"Control","bandPosition":0},"y":{"datum":0},"y2":{"datum":1.5}}},
     {"data":{"values":[{}]},"mark":{"type":"rule","color":"black","strokeWidth":1},
      "encoding":{"x":{"datum":"Control","bandPosition":0},"x2":{"datum":"MCM + LM11A-31","bandPosition":1},"y":{"datum":0}}}
    ]
   },
   {
    "width":179,"height":143,
    "title":{"text":"D","anchor":"start","frame":"group","offset":0,"baseline":"alphabetic","dx":10,"dy":44.5,"fontSize":15,"fontWeight":"bold"},
    "layer":[
     {"data":{"name":"tmrm"},"transform":[{"fold":["Control","MCM","MCM + LM11A-31"],"as":["s","v"]}],
      "mark":{"type":"line","color":"#444","strokeWidth":0.7},
      "encoding":{
       "x":{"field":"t","type":"quantitative","scale":{"domain":[0,35.5],"nice":false},"axis":{"values":[0,10,20,30],"title":"Minutes","titleFontSize":11.5,"labelFontSize":8.5,"tickSize":4,"labelPadding":1,"titlePadding":3}},
       "y":{"field":"v","type":"quantitative","scale":{"domain":[0.95,1.0704],"nice":false,"zero":false},"axis":{"values":[0.96,0.98,1.0,1.02,1.04],"format":".2f","title":["Relative TMRM","Fluorescence Intensity"],"titleFontSize":11,"titleLineHeight":15,"labelFontSize":8.5,"tickSize":3,"labelPadding":1,"domain":false,"titlePadding":6}},
       "detail":{"field":"s"}}},
     {"data":{"name":"tmrm"},"transform":[{"fold":["Control","MCM","MCM + LM11A-31"],"as":["s","v"]},{"regression":"v","on":"t","groupby":["s"]}],
      "mark":{"type":"line","color":"black","strokeWidth":0.8},
      "encoding":{"x":{"field":"t","type":"quantitative"},"y":{"field":"v","type":"quantitative"},"detail":{"field":"s"}}},
     {"data":{"name":"tmrm"},"mark":{"type":"point","shape":"circle","filled":true,"fill":"white","stroke":"black","strokeWidth":0.7,"size":20,"opacity":1},
      "encoding":{"x":{"field":"t","type":"quantitative"},"y":{"field":"Control","type":"quantitative"}}},
     {"data":{"name":"tmrm"},"mark":{"type":"point","shape":"triangle-up","filled":true,"fill":"white","stroke":"black","strokeWidth":0.6,"size":18,"opacity":1},
      "encoding":{"x":{"field":"t","type":"quantitative"},"y":{"field":"MCM","type":"quantitative"}}},
     {"data":{"name":"tmrm"},"mark":{"type":"point","shape":"circle","filled":true,"fill":"black","stroke":"black","strokeWidth":0.5,"size":20,"opacity":1},
      "encoding":{"x":{"field":"t","type":"quantitative"},"y":{"field":"MCM + LM11A-31","type":"quantitative"}}},
     {"data":{"values":[{"t":30.2,"lo":0.985,"hi":1.044}]},"mark":{"type":"rule","color":"#444","strokeWidth":0.8},
      "encoding":{"x":{"field":"t","type":"quantitative"},"y":{"field":"lo","type":"quantitative"},"y2":{"field":"hi"}}},
     {"data":{"values":[{}]},"mark":{"type":"rule","color":"black","strokeWidth":1},
      "encoding":{"x":{"datum":0},"y":{"datum":0.95},"y2":{"datum":1.05}}},
     {"data":{"values":[{"s":"Control"}]},"transform":[{"filter":"false"}],"mark":{"type":"point","filled":false,"color":"black","strokeWidth":0.8,"opacity":1},
      "encoding":{
       "shape":{"field":"s","type":"nominal","scale":{"domain":["Control","MCM","MCM + LM11A-31"],"range":["M-1.4,0L-0.45,0M0.45,0L1.4,0M0.45,0A0.45,0.45,0,1,1,-0.45,0A0.45,0.45,0,1,1,0.45,0Z","M-1.4,0L-0.3,0M0.3,0L1.4,0M0,-0.5L0.5,0.35L-0.5,0.35Z","M-1.4,0L-0.45,0M0.45,0L1.4,0M0.45,0A0.45,0.45,0,1,1,-0.45,0A0.45,0.45,0,1,1,0.45,0ZM0.3,0A0.3,0.3,0,1,1,-0.3,0A0.3,0.3,0,1,1,0.3,0ZM0.15,0A0.15,0.15,0,1,1,-0.15,0A0.15,0.15,0,1,1,0.15,0Z"]},
        "legend":{"orient":"none","legendX":8,"legendY":104.7,"title":null,"padding":0,"labelFontSize":8.5,"labelFontWeight":"normal","labelOffset":9,"rowPadding":0.7,"symbolSize":100,"symbolStrokeColor":"black","symbolStrokeWidth":0.8,"symbolOpacity":1}}}}
    ]
   },
   {
    "width":156,"height":143,
    "title":{"text":"E","anchor":"start","frame":"group","offset":0,"baseline":"alphabetic","dx":3,"dy":46,"fontSize":16,"fontWeight":"bold"},
    "layer":[
     {"data":{"name":"len"},"transform":[{"fold":["Control","MCM","MCM + LM11A-31"],"as":["s","v"]}],
      "mark":{"type":"line","color":"#444","strokeWidth":0.7},
      "encoding":{
       "x":{"field":"t","type":"quantitative","scale":{"domain":[0,61.6],"nice":false},"axis":{"values":[0,20,40,60],"title":"Minutes","titleFontSize":11,"labelFontSize":8.5,"tickSize":4,"labelPadding":1,"titlePadding":2}},
       "y":{"field":"v","type":"quantitative","scale":{"domain":[0,1.358],"nice":false},"axis":{"values":[0,0.5,1.0],"format":".1f","title":["Relative Mitochondria","Length"],"titleFontSize":11,"titleLineHeight":13,"labelFontSize":9,"tickSize":4,"labelPadding":1,"domain":false,"titlePadding":3}},
       "detail":{"field":"s"}}},
     {"data":{"name":"len"},"mark":{"type":"point","shape":"circle","filled":true,"fill":"white","stroke":"black","strokeWidth":0.7,"size":16,"opacity":1},
      "encoding":{"x":{"field":"t","type":"quantitative"},"y":{"field":"Control","type":"quantitative"}}},
     {"data":{"name":"len"},"mark":{"type":"point","shape":"triangle-up","filled":true,"fill":"white","stroke":"black","strokeWidth":0.6,"size":15,"opacity":1},
      "encoding":{"x":{"field":"t","type":"quantitative"},"y":{"field":"MCM","type":"quantitative"}}},
     {"data":{"name":"len"},"mark":{"type":"point","shape":"circle","filled":true,"fill":"black","stroke":"black","strokeWidth":0.5,"size":18,"opacity":1},
      "encoding":{"x":{"field":"t","type":"quantitative"},"y":{"field":"MCM + LM11A-31","type":"quantitative"}}},
     {"data":{"values":[{"t":60.8,"lo":0.63,"hi":0.94}]},"mark":{"type":"rule","color":"#444","strokeWidth":0.8},
      "encoding":{"x":{"field":"t","type":"quantitative"},"y":{"field":"lo","type":"quantitative"},"y2":{"field":"hi"}}},
     {"data":{"values":[{}]},"mark":{"type":"rule","color":"black","strokeWidth":1},
      "encoding":{"x":{"datum":0},"y":{"datum":0},"y2":{"datum":1.1}}},
     {"data":{"values":[{"s":"Control"}]},"transform":[{"filter":"false"}],"mark":{"type":"point","filled":false,"color":"black","strokeWidth":0.8,"opacity":1},
      "encoding":{
       "shape":{"field":"s","type":"nominal","scale":{"domain":["Control","MCM","MCM + LM11A-31"],"range":["M-1.5,0L-0.45,0M0.45,0L1.5,0M0.45,0A0.45,0.45,0,1,1,-0.45,0A0.45,0.45,0,1,1,0.45,0Z","M-1.5,0L-0.3,0M0.3,0L1.5,0M0,-0.5L0.5,0.35L-0.5,0.35Z","M-1.5,0L-0.45,0M0.45,0L1.5,0M0.45,0A0.45,0.45,0,1,1,-0.45,0A0.45,0.45,0,1,1,0.45,0ZM0.3,0A0.3,0.3,0,1,1,-0.3,0A0.3,0.3,0,1,1,0.3,0ZM0.15,0A0.15,0.15,0,1,1,-0.15,0A0.15,0.15,0,1,1,0.15,0Z"]},
        "legend":{"orient":"none","legendX":10.5,"legendY":97,"title":null,"padding":0,"labelFontSize":8.5,"labelFontWeight":"normal","labelOffset":7.5,"rowPadding":3.3,"symbolSize":100,"symbolStrokeColor":"black","symbolStrokeWidth":0.8,"symbolOpacity":1}}}}
    ]
   }
  ],
  "bounds":"flush",
  "spacing":50
 }
]
}
